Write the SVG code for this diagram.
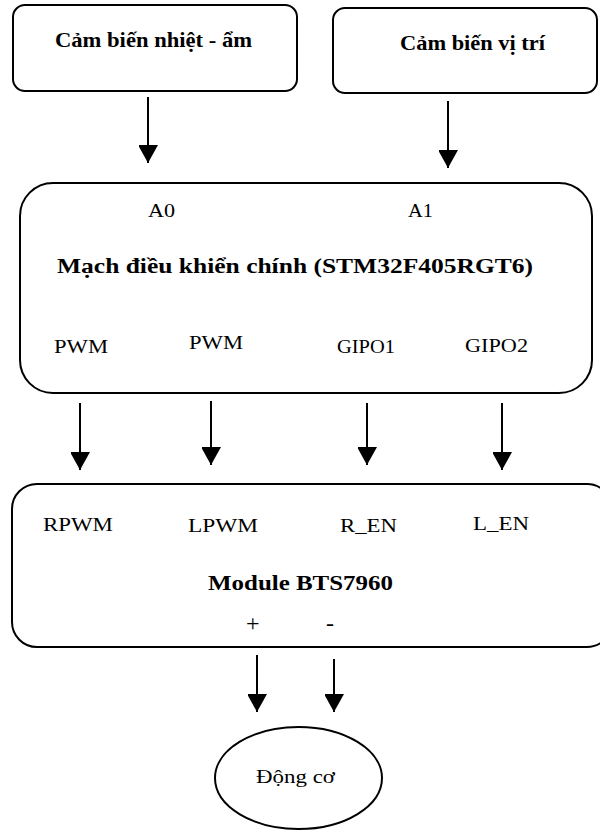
<svg xmlns="http://www.w3.org/2000/svg" width="600" height="831" viewBox="0 0 600 831">
<style>
.box{fill:#fff;stroke:#000;stroke-width:2}
.t{font-family:'Liberation Serif','DejaVu Serif',serif;font-size:19px;fill:#000}
.b{font-weight:bold;font-size:21px}
.s{font-size:24px}
.c{stroke:#000;stroke-width:2;fill:none}
</style>
<defs>
<marker id="a" viewBox="0 0 19 18" refX="19" refY="9.5" markerWidth="18" markerHeight="19" markerUnits="userSpaceOnUse" orient="auto" preserveAspectRatio="none">
<path d="M0,0 L19,9.5 L0,19 Z" fill="#000"/>
</marker>
</defs>
<rect width="600" height="831" fill="#fff"/>
<g id="sensor-th">
<rect class="box" x="13" y="5" width="284" height="86" rx="12"/>
<text class="t b" x="55" y="47" textLength="197" lengthAdjust="spacingAndGlyphs">Cảm biến nhiệt - ẩm</text>
</g>
<g id="sensor-pos">
<rect class="box" x="333" y="8" width="264" height="85" rx="12"/>
<text class="t b" x="400" y="50" textLength="145" lengthAdjust="spacingAndGlyphs">Cảm biến vị trí</text>
</g>
<g id="mcu">
<rect class="box" x="20" y="183" width="572" height="210" rx="33"/>
<text class="t" x="148" y="217" textLength="27" lengthAdjust="spacingAndGlyphs">A0</text>
<text class="t" x="408" y="217" textLength="25" lengthAdjust="spacingAndGlyphs">A1</text>
<text class="t b" x="57" y="273" textLength="476" lengthAdjust="spacingAndGlyphs">Mạch điều khiển chính (STM32F405RGT6)</text>
<text class="t" x="54" y="353" textLength="54" lengthAdjust="spacingAndGlyphs">PWM</text>
<text class="t" x="189" y="349" textLength="54" lengthAdjust="spacingAndGlyphs">PWM</text>
<text class="t" x="337" y="353" textLength="58" lengthAdjust="spacingAndGlyphs">GIPO1</text>
<text class="t" x="465" y="352" textLength="63" lengthAdjust="spacingAndGlyphs">GIPO2</text>
</g>
<g id="driver">
<rect class="box" x="12" y="484" width="600" height="163" rx="25"/>
<text class="t" x="43" y="531" textLength="70" lengthAdjust="spacingAndGlyphs">RPWM</text>
<text class="t" x="188" y="532" textLength="70" lengthAdjust="spacingAndGlyphs">LPWM</text>
<text class="t" x="340" y="532" textLength="57" lengthAdjust="spacingAndGlyphs">R_EN</text>
<text class="t" x="473" y="530" textLength="56" lengthAdjust="spacingAndGlyphs">L_EN</text>
<text class="t b" x="208" y="590" textLength="185" lengthAdjust="spacingAndGlyphs">Module BTS7960</text>
<text class="t s" x="246" y="631">+</text>
<text class="t s" x="326" y="631">-</text>
</g>
<g id="motor">
<ellipse class="box" cx="298.5" cy="778" rx="83.5" ry="51"/>
<text class="t" x="256" y="783" font-size="18" textLength="79" lengthAdjust="spacingAndGlyphs">Động cơ</text>
</g>
<g id="connectors">
<line class="c" x1="148" y1="97" x2="148" y2="163" marker-end="url(#a)"/>
<line class="c" x1="448" y1="101" x2="448" y2="168" marker-end="url(#a)"/>
<line class="c" x1="80" y1="403" x2="80" y2="470" marker-end="url(#a)"/>
<line class="c" x1="211" y1="401" x2="211" y2="465" marker-end="url(#a)"/>
<line class="c" x1="367" y1="403" x2="367" y2="465" marker-end="url(#a)"/>
<line class="c" x1="502" y1="403" x2="502" y2="470" marker-end="url(#a)"/>
<line class="c" x1="257" y1="655" x2="257" y2="712" marker-end="url(#a)"/>
<line class="c" x1="334" y1="659" x2="334" y2="712" marker-end="url(#a)"/>
</g>
</svg>
